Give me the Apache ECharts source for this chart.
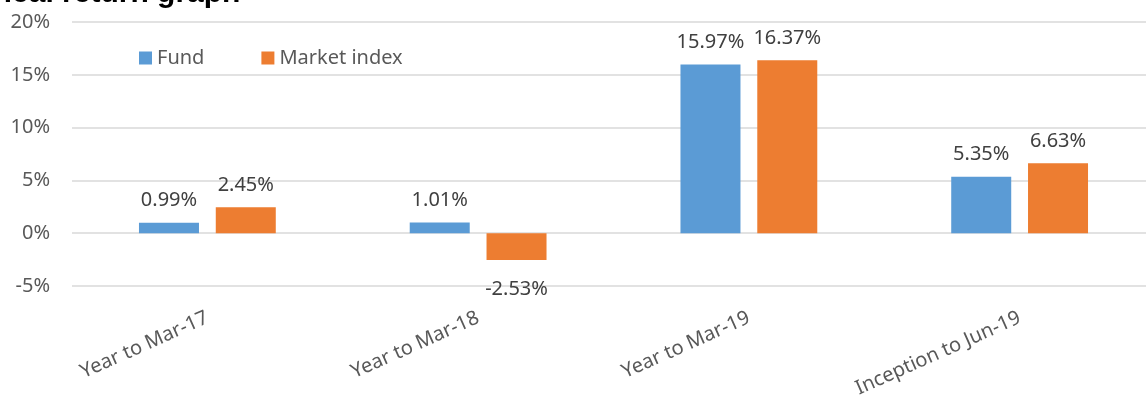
<!DOCTYPE html>
<html>
<head>
<meta charset="utf-8">
<script src="https://cdn.jsdelivr.net/npm/echarts@6/dist/echarts.min.js"></script>
<style>
  html, body { margin: 0; padding: 0; background: #ffffff; }
  #chart { width: 1146px; height: 403px; }
</style>
</head>
<body>
<div id="chart"></div>
<script>
var titleText = 'Historical return graph';
var categories = ['Year to Mar-17', 'Year to Mar-18', 'Year to Mar-19', 'Inception to Jun-19'];
var fundValues = [0.99, 1.01, 15.97, 5.35];
var marketValues = [2.45, -2.53, 16.37, 6.63];
var seriesNames = ['Fund', 'Market index'];
var yTicks = { min: -5, max: 20, interval: 5 };

var FONT = '"Noto Sans", "Open Sans", sans-serif';

function toItems(arr) {
  return arr.map(function (v) {
    if (v < 0) {
      return { value: v, label: { position: 'bottom', distance: 19 } };
    }
    return { value: v };
  });
}

var chart = echarts.init(document.getElementById('chart'), null, { renderer: 'canvas' });
chart.setOption({
  animation: false,
  backgroundColor: '#ffffff',
  color: ['#5b9bd5', '#ed7d31'],
  graphic: [{
    type: 'text',
    left: -83,
    top: -21,
    style: {
      text: titleText,
      font: 'bold 30px "Liberation Sans", Arial, sans-serif',
      fill: '#000000'
    }
  }],
  legend: {
    data: seriesNames,
    left: 139,
    top: 48,
    padding: 0,
    icon: 'rect',
    itemWidth: 13,
    itemHeight: 13,
    itemGap: 57,
    textStyle: { fontFamily: FONT, fontSize: 20, color: '#595959' }
  },
  grid: { left: 72, top: 22, right: -9, bottom: 117, containLabel: false, outerBoundsMode: 'none' },
  xAxis: {
    type: 'category',
    data: categories,
    axisLine: { show: false, onZero: false },
    axisTick: { show: false },
    axisLabel: {
      rotate: 24,
      margin: 31,
      interval: 0,
      fontFamily: FONT,
      fontSize: 20,
      color: '#595959'
    },
    splitLine: { show: false }
  },
  yAxis: {
    type: 'value',
    min: yTicks.min,
    max: yTicks.max,
    interval: yTicks.interval,
    axisLine: { show: false },
    axisTick: { show: false },
    axisLabel: {
      margin: 22,
      fontFamily: FONT,
      fontSize: 20,
      color: '#595959',
      formatter: function (v) { return v + '%'; }
    },
    splitLine: { lineStyle: { color: '#d9d9d9', width: 1.5 } }
  },
  series: [
    {
      name: seriesNames[0],
      type: 'bar',
      data: toItems(fundValues),
      barWidth: 60,
      barGap: '28%',
      label: {
        show: true,
        position: 'outside',
        distance: 12,
        fontFamily: FONT,
        fontSize: 20,
        color: '#404040',
        formatter: function (p) { return p.value.toFixed(2) + '%'; }
      }
    },
    {
      name: seriesNames[1],
      type: 'bar',
      data: toItems(marketValues),
      barWidth: 60,
      barGap: '28%',
      label: {
        show: true,
        position: 'outside',
        distance: 12,
        fontFamily: FONT,
        fontSize: 20,
        color: '#404040',
        formatter: function (p) { return p.value.toFixed(2) + '%'; }
      }
    }
  ]
});
</script>
</body>
</html>
